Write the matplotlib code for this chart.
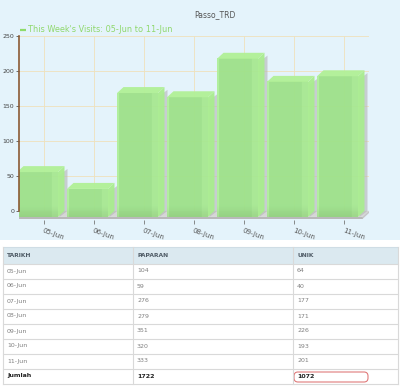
import matplotlib
matplotlib.use("Agg")
import matplotlib.pyplot as plt
import numpy as np
from matplotlib.patches import Rectangle, Polygon, FancyBboxPatch

# ---------------- data ----------------
dates = ['05-Jun', '06-Jun', '07-Jun', '08-Jun', '09-Jun', '10-Jun', '11-Jun']
paparan = [104, 59, 276, 279, 351, 320, 333]
unik = [64, 40, 177, 171, 226, 193, 201]
headers = ['TARIKH', 'PAPARAN', 'UNIK']
total_label = 'Jumlah'
chart_title = 'Passo_TRD'
legend_label = "This Week's Visits: 05-Jun to 11-Jun"
yticks = [0, 50, 100, 150, 200, 250]

W, H = 400, 386
fig = plt.figure(figsize=(W / 100, H / 100), dpi=100)
fig.patch.set_facecolor('white')

# background / table axes in pixel coordinates
bg = fig.add_axes([0, 0, 1, 1])
bg.set_xlim(0, W)
bg.set_ylim(H, 0)
bg.axis('off')
bg.add_patch(Rectangle((0, 0), W, 240, facecolor='#e4f3fb', edgecolor='none'))

# title + legend
bg.text(215, 15, chart_title, ha='center', va='center', fontsize=5.5, color='#555555')
bg.plot([20, 26], [30, 30], color='#8edb6a', lw=1.6, solid_capstyle='butt')
bg.text(28, 30, legend_label, ha='left', va='center', fontsize=5.9, color='#8fd86c')

# ---------------- chart ----------------
px_per_unit_y = 0.7
ax = fig.add_axes([19 / W, 1 - 220 / H, 350 / W, 184 / H])
ax.patch.set_alpha(0)
ax.set_xlim(-0.5, 6.5)
ax.set_ylim(-13, 250)

grid_c = '#efe1bb'
for yv in yticks[1:]:
    ax.plot([-0.5, 6.5], [yv, yv], color=grid_c, lw=0.6, zorder=1)
ax.vlines(range(len(dates)), 0, 250, color=grid_c, lw=0.6, zorder=1)

dx = 0.13
dy = 6 / px_per_unit_y
hw = 0.41

# floor
ax.add_patch(Polygon([(-0.5, 0), (6.5, 0), (6.5 - dx, -dy), (-0.5 - dx, -dy)],
                     closed=True, facecolor='#d6d6d6', edgecolor='none', zorder=2))
ax.add_patch(Rectangle((-0.5 - dx, -dy - 3.0), 7, 3.0, facecolor='#b9b9b9',
                       edgecolor='none', zorder=2))
ax.add_patch(Polygon([(6.5 - dx, -dy), (6.5, 0), (6.5, -3.0), (6.5 - dx, -dy - 3.0)],
                     closed=True, facecolor='#c6c6c6', edgecolor='none', zorder=2))

# front face shading (horizontal profile)
gx = np.linspace(0, 1, 40)
base = np.array([0.62, 0.885, 0.54])
light = np.array([0.69, 0.94, 0.60])
row = np.tile(base, (40, 1))
row[:2] = light
row[-6:] = base * 0.5 + light * 0.5

for i, v in enumerate(unik):
    x0, x1 = i - hw, i + hw
    # shadow
    ax.add_patch(Polygon([(x1 - dx + 0.03, -dy), (x1 + 0.06, 0), (x1 + 0.06, v - 4),
                          (x1 - dx + 0.03, v - dy - 4)], closed=True,
                         facecolor='#b5b5b5', edgecolor='none', alpha=0.6, zorder=2.5))
    # vertical darkening near the bottom (in data units)
    yy = np.linspace(0, v, 80)
    darken = 1 - 0.07 * np.clip(1 - yy / 16, 0, 1)
    img = np.clip(row[None, :, :] * darken[:, None, None], 0, 1)
    ax.imshow(img, extent=(x0 - dx, x1 - dx, -dy, v - dy), origin='lower',
              aspect='auto', alpha=0.95, zorder=3, interpolation='bilinear')
    # side
    ax.add_patch(Polygon([(x1 - dx, -dy), (x1, 0), (x1, v), (x1 - dx, v - dy)], closed=True,
                         facecolor='#a9ec8f', edgecolor='none', alpha=0.95, zorder=3))
    # top
    ax.add_patch(Polygon([(x0 - dx, v - dy), (x1 - dx, v - dy), (x1, v), (x0, v)], closed=True,
                         facecolor='#b2f098', edgecolor='none', alpha=0.97, zorder=3))

ax.set_xlim(-0.5, 6.5)
ax.set_ylim(-13, 250)

for s in ['top', 'right', 'bottom']:
    ax.spines[s].set_visible(False)
ax.spines['left'].set_bounds(0, 250)
ax.spines['left'].set_color('#8a5a34')
ax.spines['left'].set_linewidth(1.2)
ax.spines['left'].set_zorder(4)

ax.set_yticks(yticks)
ax.set_yticklabels([str(t) for t in yticks])
ax.tick_params(axis='y', length=2.5, width=0.6, color='#555555', labelsize=4.5,
               labelcolor='#444444', pad=1)
ax.set_xticks(range(len(dates)))
ax.set_xticklabels(dates)
ax.tick_params(axis='x', length=3, width=0.6, color='#777777', labelsize=5,
               labelcolor='#555555', pad=2)
for lab in ax.get_xticklabels():
    lab.set_rotation(-20)
    lab.set_ha('left')
    lab.set_va('top')
    lab.set_rotation_mode('anchor')

# ---------------- table ----------------
col_x = [3, 133, 293, 398]
top = 247
hdr_b = 263.5
rh = 15
n_rows = len(dates) + 1
bottom = hdr_b + rh * n_rows

bg.add_patch(Rectangle((col_x[0], top), col_x[-1] - col_x[0], hdr_b - top,
                       facecolor='#dbe9f0', edgecolor='none'))
line_c = '#d9d9d9'
bg.plot([col_x[0], col_x[-1]], [top, top], color='#cfdde5', lw=0.8)
for k in range(n_rows + 1):
    yk = hdr_b + rh * k
    bg.plot([col_x[0], col_x[-1]], [yk, yk], color=line_c, lw=0.8)
for xc in col_x:
    bg.plot([xc, xc], [top, bottom], color=line_c, lw=0.8)

for j, h in enumerate(headers):
    bg.text(col_x[j] + 4, (top + hdr_b) / 2, h, ha='left', va='center', fontsize=4.3,
            color='#4f5b66', fontweight='bold')

rows = [[d, str(p), str(u)] for d, p, u in zip(dates, paparan, unik)]
for r, vals in enumerate(rows):
    yc = hdr_b + rh * r + rh / 2
    for j, t in enumerate(vals):
        bg.text(col_x[j] + 4, yc, t, ha='left', va='center', fontsize=4.5, color='#808080')

yc = hdr_b + rh * len(dates) + rh / 2
tot = [total_label, str(sum(paparan)), str(sum(unik))]
for j, t in enumerate(tot):
    bg.text(col_x[j] + 4, yc, t, ha='left', va='center', fontsize=4.5, color='#222222',
            fontweight='bold')

bg.add_patch(FancyBboxPatch((294, 372), 74, 10, boxstyle='round,pad=0,rounding_size=4',
                            facecolor='none', edgecolor='#e07a7a', lw=0.8))

fig.savefig('out.png', dpi=100, facecolor='white')
